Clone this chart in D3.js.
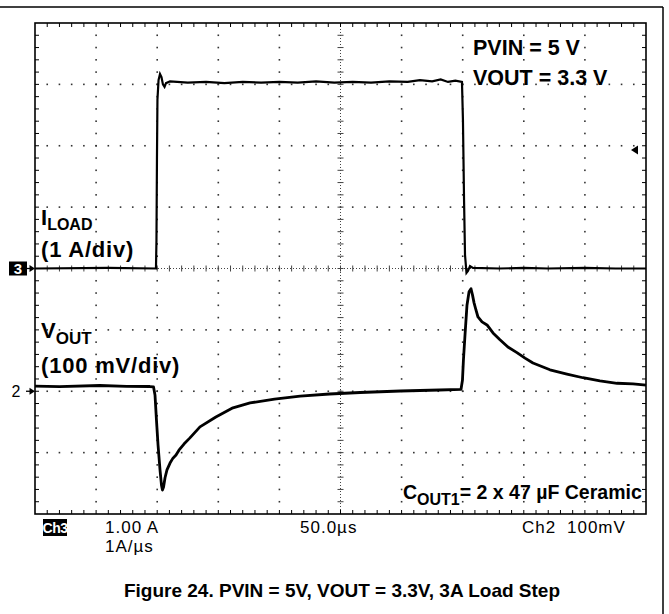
<!DOCTYPE html>
<html>
<head>
<meta charset="utf-8">
<script src="https://cdn.jsdelivr.net/npm/d3@7"></script>
<style>
  body { margin: 0; background: #fff; }
  svg text { font-family: "Liberation Sans", Arial, sans-serif; }
</style>
</head>
<body>
<div id="chart"></div>
<script>
// Ch3: load current, A (1 A/div)
const loadTime = [0, 60, 99, 99.4, 99.8, 100.2, 101.1, 102.3, 103.5, 104.7, 106, 107.2, 110.5,
  125, 140, 155, 170, 185, 200, 215, 230, 245, 260, 275, 290, 305, 315, 325, 332, 338, 344, 349.4,
  350.2, 351.1, 351.9, 353.1, 354.3, 356, 358.4, 380, 400, 420, 450, 475, 500];
const loadAmps = [0, 0.01, 0, 0.46, 1.77, 2.75, 3.07, 3.17, 3.12, 3.0, 2.96, 3.02, 3.05,
  3.03, 3.04, 3.02, 3.04, 3.03, 3.04, 3.03, 3.05, 3.03, 3.04, 3.03, 3.05, 3.04, 3.07, 3.05, 3.08, 3.04, 3.06, 3.04,
  2.42, 1.12, 0.22, -0.07, -0.04, 0.04, 0.01, 0, 0.01, 0, 0.01, 0, 0];

// Ch2: output voltage deviation, mV (100 mV/div)
const voutTime = [0, 20, 53, 75, 94, 97, 98.2, 99.4, 100.7, 102.3, 103.5, 104.3, 105.2, 106.4,
  108, 110.5, 112.9, 115.4, 117.8, 121.9, 126.8, 135, 148, 162, 176, 196, 217, 241,
  266, 299, 331, 348.6, 349.8, 350.6, 351.9, 353.5, 355.2, 356.8, 358, 359.3, 360.9,
  362.5, 365.8, 369.9, 374.8, 380.5, 387, 394.4, 401, 407.5, 421.4, 435.3, 448.4,
  462.3, 476.3, 489.4, 500];
const voutMv = [8.5, 7.5, 9.4, 8, 7.7, 7, -6, -47, -88, -128, -153, -161, -156, -141,
  -128, -117, -109, -104, -96, -86, -76, -58, -42, -27, -19, -13, -8, -4.5,
  -2, 0.4, 2, 2.9, 18, 51, 92, 140, 162, 167, 157, 144, 132,
  121, 113, 108, 95, 84, 72, 63, 54, 46, 35, 28, 22,
  17, 13, 12, 10];

// Labels
const scopeNotes = ["PVIN = 5 V", "VOUT = 3.3 V"];
const readouts = [
  { text: "1.00 A", x: 105, y: 533 },
  { text: "1A/µs", x: 105, y: 552 },
  { text: "50.0µs", x: 300, y: 533 },
  { text: "Ch2", x: 522, y: 533 },
  { text: "100mV", x: 567, y: 533 }
];
const caption = "Figure 24. PVIN = 5V, VOUT = 3.3V, 3A Load Step";

// ----- Layout -----
const W = 669, H = 614;
const plot = { left: 35, right: 646, top: 23, bottom: 514 };

const svg = d3.select("#chart")
  .append("svg")
  .attr("width", W)
  .attr("height", H);

// ----- Scales -----
const x = d3.scaleLinear().domain([0, 500]).range([plot.left, plot.right]);   // 50 us/div
const xDiv = d3.scaleLinear().domain([0, 10]).range([plot.left, plot.right]);
const yDiv = d3.scaleLinear().domain([-4, 4]).range([plot.bottom, plot.top]);
const yLoad = d3.scaleLinear().domain([-4, 4]).range([plot.bottom, plot.top]);   // ground at center
const yVout = d3.scaleLinear().domain([-200, 600]).range([plot.bottom, plot.top]); // ground 2 div down

// ----- Outer frame -----
svg.append("line").attr("x1", 0).attr("x2", 663).attr("y1", 7).attr("y2", 7)
  .attr("stroke", "#000").attr("stroke-width", 1.5);
svg.append("line").attr("x1", 663).attr("x2", 663).attr("y1", 7).attr("y2", H)
  .attr("stroke", "#000").attr("stroke-width", 1.5);

// ----- Grid dots -----
const minorX = d3.range(1, 50).map(k => k / 5);
const minorY = d3.range(1, 40).map(k => k / 5 - 4);
const grid = svg.append("g").attr("fill", "#333");

[1, 2, 3, 4, 6, 7, 8, 9].forEach(i => {
  grid.selectAll(null).data(minorY).enter().append("rect")
    .attr("x", xDiv(i) - 0.8).attr("y", d => yDiv(d) - 0.8)
    .attr("width", 1.6).attr("height", 1.6);
});
[-3, -2, -1, 1, 2, 3].forEach(j => {
  grid.selectAll(null).data(minorX).enter().append("rect")
    .attr("x", d => xDiv(d) - 0.8).attr("y", yDiv(j) - 0.8)
    .attr("width", 1.6).attr("height", 1.6);
});

// ----- Center cross with minor ticks -----
const cross = svg.append("g").attr("stroke", "#444").attr("stroke-width", 1);
cross.append("line").attr("x1", plot.left).attr("x2", plot.right)
  .attr("y1", yDiv(0)).attr("y2", yDiv(0)).attr("stroke-dasharray", "1,2");
cross.append("line").attr("x1", xDiv(5)).attr("x2", xDiv(5))
  .attr("y1", plot.top).attr("y2", plot.bottom).attr("stroke-dasharray", "1,2");
cross.selectAll(null).data(minorX).enter().append("line")
  .attr("x1", d => xDiv(d)).attr("x2", d => xDiv(d))
  .attr("y1", yDiv(0) - 3).attr("y2", yDiv(0) + 3);
cross.selectAll(null).data(minorY).enter().append("line")
  .attr("y1", d => yDiv(d)).attr("y2", d => yDiv(d))
  .attr("x1", xDiv(5) - 3).attr("x2", xDiv(5) + 3);

// ----- Border with inward ticks -----
const border = svg.append("g").attr("stroke", "#000");
border.selectAll(null).data(minorX).enter().append("line")
  .attr("x1", d => xDiv(d)).attr("x2", d => xDiv(d))
  .attr("y1", plot.top).attr("y2", plot.top + 4).attr("stroke-width", 1);
border.selectAll(null).data(minorX).enter().append("line")
  .attr("x1", d => xDiv(d)).attr("x2", d => xDiv(d))
  .attr("y1", plot.bottom).attr("y2", plot.bottom - 4).attr("stroke-width", 1);
border.selectAll(null).data(minorY).enter().append("line")
  .attr("y1", d => yDiv(d)).attr("y2", d => yDiv(d))
  .attr("x1", plot.left).attr("x2", plot.left + 4).attr("stroke-width", 1);
border.selectAll(null).data(minorY).enter().append("line")
  .attr("y1", d => yDiv(d)).attr("y2", d => yDiv(d))
  .attr("x1", plot.right).attr("x2", plot.right - 4).attr("stroke-width", 1);
svg.append("rect")
  .attr("x", plot.left).attr("y", plot.top)
  .attr("width", plot.right - plot.left).attr("height", plot.bottom - plot.top)
  .attr("fill", "none").attr("stroke", "#000").attr("stroke-width", 1.6);

// ----- Traces -----
const loadLine = d3.line().x((d, i) => x(loadTime[i])).y(d => yLoad(d));
const voutLine = d3.line().x((d, i) => x(voutTime[i])).y(d => yVout(d));

svg.append("path")
  .attr("d", loadLine(loadAmps))
  .attr("fill", "none").attr("stroke", "#000").attr("stroke-width", 2.2);
svg.append("path")
  .attr("d", voutLine(voutMv))
  .attr("fill", "none").attr("stroke", "#000").attr("stroke-width", 2.8)
  .attr("stroke-linejoin", "round");

// ----- Channel markers -----
svg.append("rect").attr("x", 9).attr("y", yLoad(0) - 7).attr("width", 18).attr("height", 14).attr("fill", "#000");
svg.append("text").attr("x", 18).attr("y", yLoad(0) + 5.5).attr("text-anchor", "middle")
  .style("font-size", "15px").style("font-weight", "700").style("fill", "#fff").text("3");
svg.append("text").attr("x", 16).attr("y", yVout(0) + 6).attr("text-anchor", "middle")
  .style("font-size", "16px").style("fill", "#000").text("2");

[yLoad(0), yVout(0)].forEach(yy => {
  svg.append("line").attr("x1", 26).attr("x2", 33).attr("y1", yy).attr("y2", yy)
    .attr("stroke", "#000").attr("stroke-width", 1.3);
  svg.append("path").attr("d", `M35,${yy} L29.5,${yy - 3.5} L29.5,${yy + 3.5} Z`).attr("fill", "#000");
});

// trigger level marker on the right
svg.append("path").attr("d", "M631,150 L638,145.5 L638,154.5 Z").attr("fill", "#000");

// ----- Annotations -----
svg.selectAll(".note")
  .data(scopeNotes)
  .enter()
  .append("text")
  .attr("x", 473)
  .attr("y", (d, i) => 55 + i * 30)
  .style("font-size", "21.5px")
  .style("font-weight", "700")
  .text(d => d);

const iload = svg.append("text").attr("x", 41).attr("y", 225)
  .style("font-size", "22px").style("font-weight", "700");
iload.append("tspan").text("I");
iload.append("tspan").attr("dy", 5).style("font-size", "16px").text("LOAD");
svg.append("text").attr("x", 41).attr("y", 257)
  .style("font-size", "22px").style("font-weight", "700").style("letter-spacing", "0.8px")
  .text("(1 A/div)");

const vout = svg.append("text").attr("x", 41).attr("y", 338)
  .style("font-size", "22px").style("font-weight", "700");
vout.append("tspan").text("V");
vout.append("tspan").attr("dy", 6).style("font-size", "17px").text("OUT");
svg.append("text").attr("x", 41).attr("y", 373)
  .style("font-size", "22px").style("font-weight", "700").style("letter-spacing", "0.8px")
  .text("(100 mV/div)");

const cout = svg.append("text").attr("x", 403).attr("y", 499)
  .style("font-size", "19.5px").style("font-weight", "700");
cout.append("tspan").text("C");
cout.append("tspan").attr("dy", 6).style("font-size", "16px").text("OUT1");
cout.append("tspan").attr("dy", -6).text("= 2 x 47 µF Ceramic");

// ----- Scope readouts -----
svg.append("rect").attr("x", 43).attr("y", 519).attr("width", 24).attr("height", 17).attr("fill", "#000");
svg.append("text").attr("x", 55).attr("y", 533).attr("text-anchor", "middle")
  .style("font-size", "14px").style("font-weight", "700").style("letter-spacing", "-0.5px")
  .style("fill", "#fff").text("Ch3");

svg.selectAll(".readout")
  .data(readouts)
  .enter()
  .append("text")
  .attr("x", d => d.x)
  .attr("y", d => d.y)
  .style("font-size", "17px")
  .style("letter-spacing", "1px")
  .text(d => d.text);

// ----- Caption -----
svg.append("text")
  .attr("x", 342)
  .attr("y", 597)
  .attr("text-anchor", "middle")
  .style("font-size", "19px")
  .style("font-weight", "700")
  .text(caption);
</script>
</body>
</html>
